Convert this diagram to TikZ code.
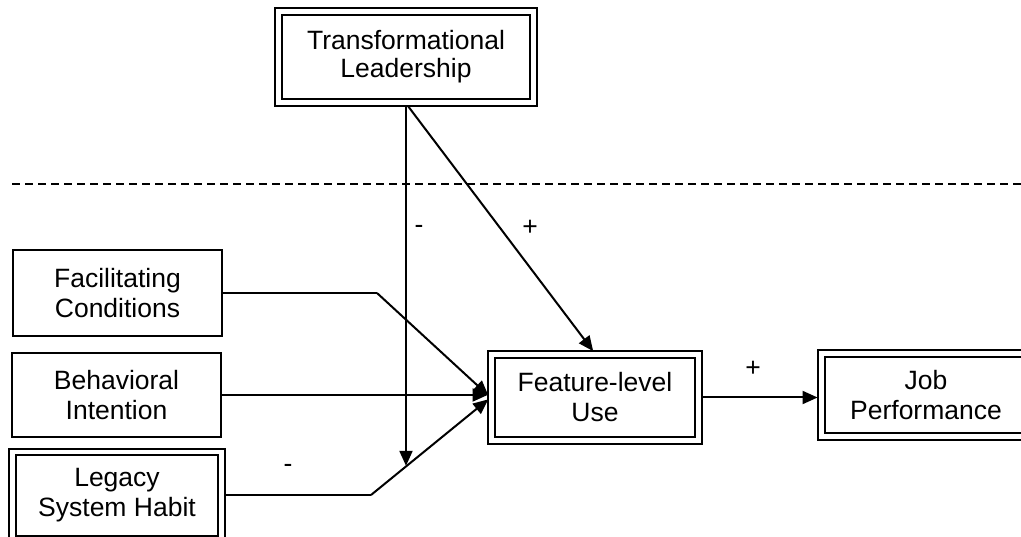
\documentclass[tikz,border=0pt]{standalone}
\usepackage{fontspec}
\setmainfont{Liberation Sans}
\usetikzlibrary{arrows.meta}
\tikzset{
  box/.style={draw, line width=1.4pt, align=center, inner sep=0pt,
    font=\fontsize{26.5}{30}\selectfont},
  dbox/.style={box, line width=1.9pt, double, double distance=4.6pt},
  conn/.style={line width=2pt, -{Triangle[length=15pt,width=13pt]}},
  plain/.style={line width=2pt},
  lbl/.style={font=\fontsize{26.5}{30}\selectfont, inner sep=0pt},
}
\begin{document}
\begin{tikzpicture}[x=1pt,y=-1pt]
\useasboundingbox (0,0) rectangle (1021,537);
% nodes
\node[dbox, minimum width=255pt, minimum height=91pt, font=\fontsize{26.5}{28}\selectfont] (tl) at (406,57) {Transformational\\Leadership};
\node[box, minimum width=209pt, minimum height=86pt] (fc) at (117.5,293) {Facilitating\\Conditions};
\node[box, minimum width=209pt, minimum height=84pt] (bi) at (116.5,395) {Behavioral\\Intention};
\node[dbox, minimum width=209pt, minimum height=87pt] (lsh) at (117,495.5) {Legacy\\System Habit};
\node[dbox, minimum width=207pt, minimum height=86pt] (flu) at (595,397.5) {Feature-level\\Use};
\node[dbox, minimum width=209pt, minimum height=83pt] (jp) at (926,395) {Job\\Performance};
% dashed separator
\coordinate (dl) at (12,184);
\coordinate (dr) at (1021,184);
\draw[line width=1.3pt, dash pattern=on 8pt off 5pt] (dl) -- (dr);
% bends
\coordinate (b1) at (377,293);
\coordinate (b3) at (371,495);
\path (b3) -- (flu.west) coordinate[pos=0.299] (mod);
% connectors
\draw[plain] (fc.east) -- (b1);
\draw[conn, shorten >=3pt] (b1) -- (flu.west);
\draw[conn, shorten >=3pt] (bi.east) -- (bi.east -| flu.west);
\draw[plain, shorten <=3pt] (lsh.east |- b3) -- (b3);
\draw[conn, shorten >=3pt] (b3) -- (flu.west);
\draw[conn, shorten <=3pt] (tl.south) -- (tl.south |- mod);
\draw[conn, shorten <=3pt, shorten >=3pt] (tl.south) -- (flu.north);
\draw[conn, shorten <=3pt, shorten >=3pt] (flu.east) -- (flu.east -| jp.west);
% labels
\node[lbl] (m1) at (419,229) {-};
\node[lbl] (p1) at (530,228) {+};
\node[lbl] (m2) at (288,468) {-};
\node[lbl] (p2) at (753,369) {+};
\end{tikzpicture}
\end{document}
